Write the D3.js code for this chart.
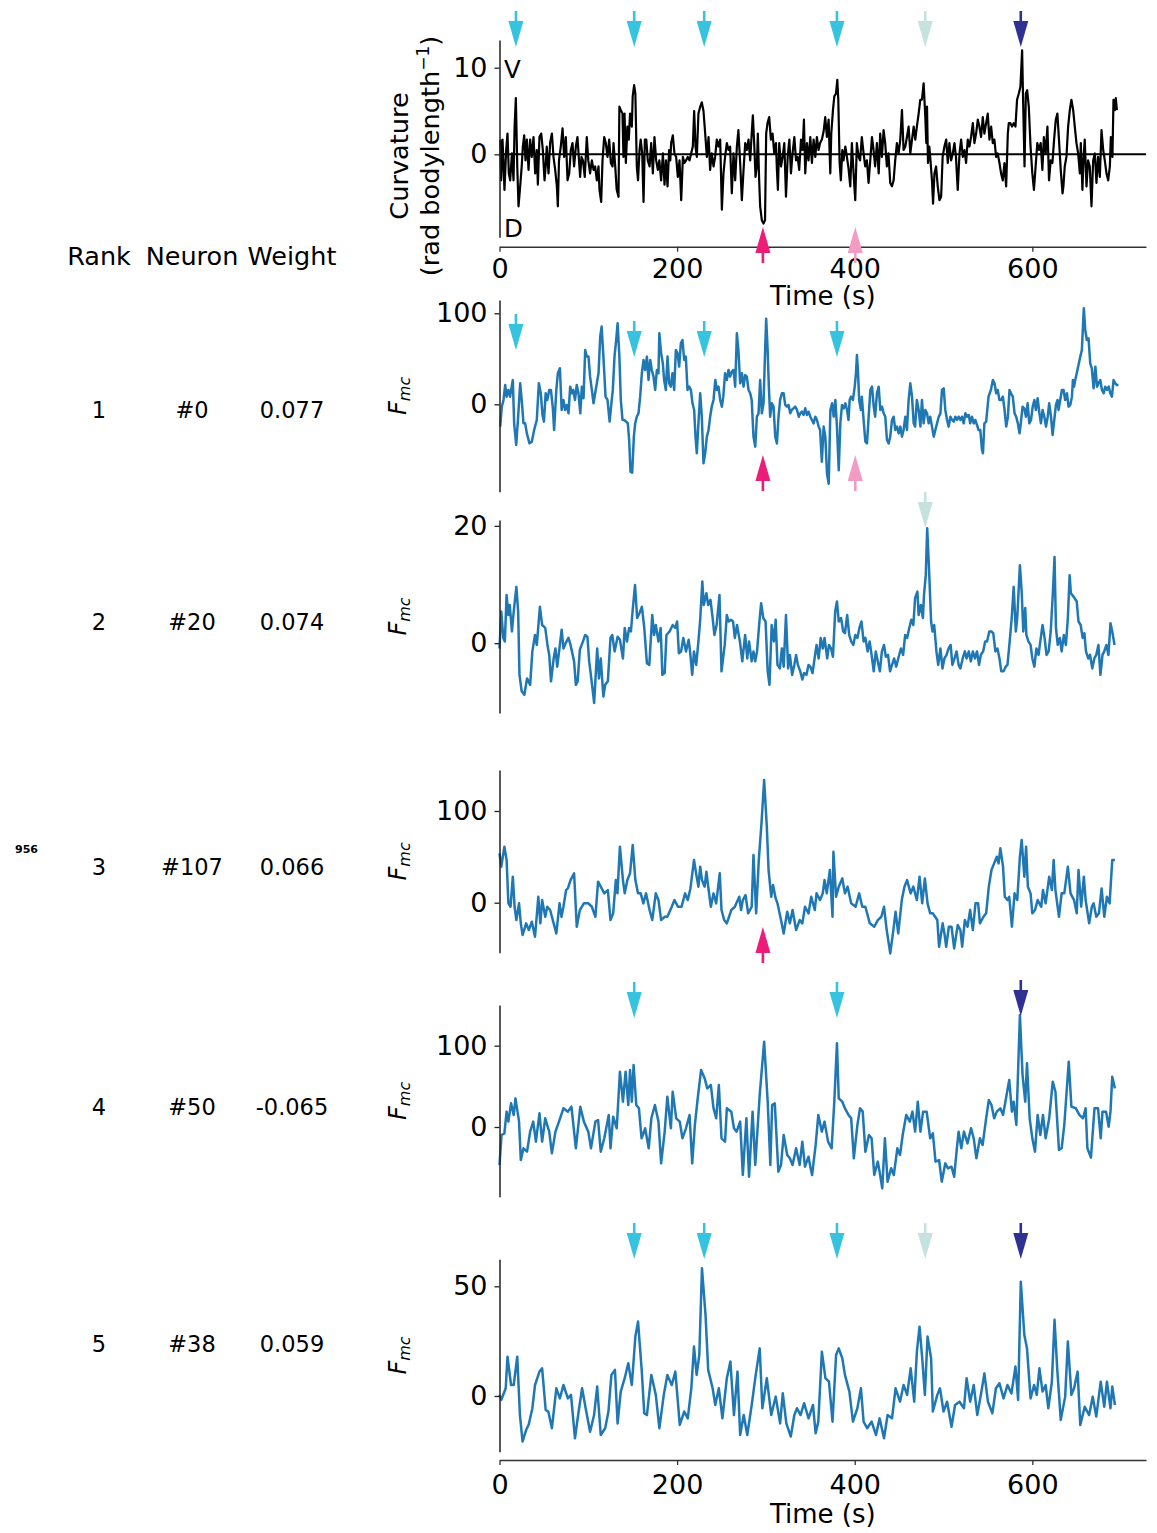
<!DOCTYPE html>
<html><head><meta charset="utf-8">
<script src="https://cdn.jsdelivr.net/npm/d3@7"></script>
<style>body{margin:0;background:#fff}svg{font-family:"DejaVu Sans",sans-serif}</style>
</head><body>
<svg id="c" width="1157" height="1533"></svg>
<script>
// ---------------- data ----------------
const timeTicks = [0, 200, 400, 600];
const ranks = ["1", "2", "3", "4", "5"];
const neurons = ["#0", "#20", "#107", "#50", "#38"];
const weights = ["0.077", "0.074", "0.066", "-0.065", "0.059"];

// events (s) and their arrow colours / directions
const eventTimes  = [18.5, 151.7, 230.5, 380, 479.4, 587, 296.6, 400.6];
const eventColors = ["#35c3df","#35c3df","#35c3df","#35c3df","#c6e2df","#2e3192","#ec1c79","#f49bc3"];
const eventDirs   = ["down","down","down","down","down","down","up","up"];

const curvature = [[0.8,1.7],[1.9,-3],[3.4,1.7],[4.5,-1],[5.6,-4.1],[7.5,0.5],[9,2.4],[10.5,-2.2],[12,-3],[14,0.1],[15.8,-3],[17,3.2],[18.4,6.5],[20,-1.4],[21.4,-6],[23.3,-3.7],[25,-1.4],[26.3,0.9],[27.8,2.2],[29.3,-0.7],[30.8,1.7],[32.7,-1.8],[34.5,1.7],[36.4,-0.3],[38.3,2],[40.2,-2.2],[42,0.5],[43.2,-3.5],[45,2],[47,2.4],[48.8,0.5],[50.7,-3],[52,-1.4],[53.2,0.9],[55.2,-2.2],[57,1.3],[59,2.4],[60.8,-0.3],[62.7,-1.8],[64.6,-3.7],[65.7,-6],[67,-0.7],[69,0.9],[71,3],[72.8,-0.3],[74.7,2],[76.6,-3],[78.5,-2.2],[80.3,0.5],[82.2,1.3],[84,-1.4],[86,0.9],[87.8,2],[89.7,-1],[90.8,-2.6],[92.3,-0.3],[94,-0.7],[96,-2.6],[98.3,2],[100,-0.7],[102,-2.2],[104,-0.7],[105.9,-1.8],[107.7,-1.4],[109.6,-3],[111.5,-1.4],[112.6,-4.1],[114.5,-5.5],[116,-0.7],[117.9,2],[119.7,1.3],[121.6,-0.3],[123.5,1.7],[125.4,-1],[127.3,-1.4],[128.4,1.3],[130.3,-1.4],[132,-4.1],[134,-4.9],[135,5.5],[136.6,5.1],[138.5,4.7],[139.6,-0.3],[140.8,4.7],[142.3,-1],[144,3.2],[145.6,1.7],[147,4.7],[149,3.2],[150,6.7],[151.6,8],[153,7],[154.6,-1.4],[156,-3],[157.7,0.5],[159,1.7],[160.7,0.1],[162.2,-5.5],[163.7,1.7],[165.3,1.7],[167,-0.7],[169,-1.4],[170.8,1.3],[172.7,-2.2],[174.5,2],[176.4,-0.7],[178.3,-1.8],[180,-0.7],[182,-3],[184,0.1],[185.8,-3.5],[187.5,-0.7],[189.2,-3.7],[191,0.5],[192.3,-0.7],[193.3,1.3],[195.2,2.2],[197,0.1],[198.9,-0.3],[200.8,-2.6],[202.7,-0.7],[204.6,-5.3],[206.5,-0.3],[208.3,-1],[210,-0.7],[212,-0.3],[214,-0.7],[215.8,0.1],[217.7,0.9],[219.2,5],[220.7,0.9],[222.2,-0.3],[224,4.7],[226,5.5],[227.8,6],[229.7,5],[231.6,2.4],[233.5,-0.3],[235.4,2],[237.2,-1.8],[239,0.1],[241,-1.4],[242.8,-0.3],[244.7,1.7],[246.6,0.9],[248.5,1.7],[250.4,-6.4],[252.2,-2.2],[254,-0.3],[256,1.3],[257.9,0.5],[259.7,0.9],[261.6,-4.5],[263.5,0.1],[265.4,-3],[267.3,0.9],[269,2.8],[271,-1],[272.9,-5.3],[274.8,-1.8],[276.7,1.3],[278.5,0.5],[280.4,1.7],[282.3,-0.7],[284,2.4],[285.3,4.5],[286.8,1.3],[288.3,-2.6],[289.8,-1.4],[290.9,2.4],[292.4,-3],[293.5,-6],[295.4,-7.6],[297.3,-8],[299,-7.6],[300.3,2.4],[301.8,3.6],[303.7,4.3],[305.6,1.7],[307.5,2.4],[309.4,0.1],[311.3,1.3],[312.4,-1.8],[313.5,-4.1],[315,1.3],[317,-1.4],[318.8,-0.3],[320.7,1.3],[322.6,-4.9],[324.5,-0.3],[326.4,1.7],[328.2,-2.2],[330,0.1],[332,2],[333.9,-0.7],[335.7,-0.3],[337.5,-1.8],[339.5,1.7],[341.3,0.5],[342.8,4],[344.3,-2.2],[346.2,1.3],[348,-0.7],[350,2],[351.8,-1],[353.7,1.7],[355.6,-0.3],[357.4,2],[359.3,0.5],[361,1.3],[363,1.7],[364.9,2.6],[366.8,4.3],[368.7,2],[370.6,4],[372.5,-2.2],[373.6,2.4],[375.5,5.1],[377,6.7],[378.9,7],[380.4,8.6],[381.5,6.3],[383,-1],[384.4,-3],[386,0.5],[387.4,-0.7],[389.4,0.9],[391.2,-0.3],[393,-1.6],[395,-3.7],[396.8,1.3],[398.7,-2.2],[400.6,-5.3],[402.4,1.3],[404.3,-0.3],[406,-0.7],[408,2],[410,0.1],[411.8,-1.4],[413.7,-0.7],[415.6,-3.3],[417.5,-0.7],[419.4,2],[421.2,0.5],[423,-1.4],[425,1.3],[427,-2.2],[428.7,2.4],[430.6,-0.3],[432.5,2.8],[434.3,1.3],[436.2,-1.4],[438,0.1],[440,-3.3],[441.9,-3.7],[443.8,-3],[445.6,-0.7],[447.5,1.3],[449.4,0.1],[451.3,1.7],[453.2,5.1],[455,0.5],[457,0.9],[458.8,2],[460.7,3.2],[462.6,0.1],[464.5,1.7],[466.4,3.2],[468.2,1.7],[470,3.2],[472,4.7],[473.8,6.3],[475.7,6.3],[477.6,8.2],[479.5,4.3],[480.6,1.3],[481.4,5.5],[482.5,-1],[484,0.9],[485,-0.3],[487,-3],[488.2,-5.7],[489.8,-2.2],[491.6,-1.4],[493.5,-3.7],[495.4,-5.3],[497.3,-4.9],[499,-0.3],[501,0.9],[503,1.7],[504.8,-1],[506.6,1.3],[508.5,-0.7],[510.4,0.1],[512.3,1.3],[514,-0.3],[516,-4.1],[518,0.1],[519.8,1.7],[521.7,-0.3],[523.6,0.5],[525.4,-1],[527.3,1.7],[529.2,0.9],[531,2],[533,3.6],[534.8,1.3],[536.7,2.4],[538.6,4],[540.4,3.2],[542.3,2],[544.2,4.3],[546,2.4],[548,3.6],[549.8,4.7],[551.7,1.7],[553.6,3.2],[555.5,1.3],[557.3,1.7],[559.2,-0.3],[561,0.1],[563,-1],[564.8,-2.2],[566.7,-3],[568.6,-1],[570.5,-3.7],[572.4,2.4],[573.5,3.6],[575.3,3.6],[577.2,3.2],[579,3.6],[581,3.2],[582.8,6.3],[584.7,7],[586.6,7.8],[588.5,12],[589.6,6.3],[591.2,-1.4],[592.7,7],[594.2,7.4],[596,5.5],[598,0.9],[600,-2.2],[601.8,-4.1],[603.7,-1.4],[605.6,1.3],[607.5,0.5],[609.4,1.3],[611.3,-1.8],[613,2],[615,0.1],[617,3.2],[618.8,-3],[620.7,-0.7],[622.6,-1],[624.5,1.7],[626.4,4],[628.2,4.7],[630,1.7],[632,-1.8],[634,-4.5],[635,-3.7],[636.5,-1.4],[638.4,-0.3],[640.3,3.2],[642.2,5.1],[644,6.3],[646,5.1],[647.8,3.2],[649.7,1.3],[651.6,0.1],[653.5,-2.2],[654.6,1.3],[656.4,-4.1],[657.6,-0.7],[659,1.7],[661,-3.7],[662.8,-0.7],[664.7,-1.4],[666.6,-6],[668.5,-0.7],[670.4,0.1],[672.2,-3.3],[674,-0.3],[676,-2.6],[677.9,2.8],[679.8,0.5],[681.6,-0.7],[683.5,-2.2],[685.4,-3],[687.3,-1.4],[688.4,2],[690.2,-0.3],[691.4,6.3],[692.9,5.1],[694,6.5],[695.2,5.1]];

const neuron0 = [[0.8,-24.5],[2.6,-2.6],[4.5,4.8],[6.4,21.2],[8,8.4],[10,15.8],[11.9,8.4],[15,26.7],[16.5,-20.9],[18.8,-44.7],[21,-13.6],[23.3,23.1],[25,4.8],[27,-20.9],[28.9,-20.9],[30.8,-31.9],[33.8,-42.9],[36.4,-41],[39,-28.2],[42,-17.2],[44.3,23.1],[46.5,12.1],[48.4,-11.7],[50,-19],[52,12.1],[53.8,4.8],[56,15.8],[57.9,15.8],[60.1,-4.4],[61.5,-28.2],[64,15.8],[65.7,34.1],[68,39.6],[70,-6.2],[72,4.8],[73.9,-6.2],[75.8,-0.7],[77.7,-9.9],[79.6,19.4],[81.5,12.1],[83,15.8],[85,4.8],[87,21.2],[88.9,12.1],[91,-9.9],[92.7,19.4],[94.6,6.6],[96.5,59.7],[98.3,52.4],[100.2,52.4],[102,30.4],[104,15.8],[105.9,1.1],[107.7,12.1],[109.6,23.1],[111.5,34.1],[113.4,74.4],[115,85.4],[117,52.4],[119.4,8.4],[121.6,4.8],[124,-19],[126,1.1],[127.6,15.8],[129.5,52.4],[131.4,70.7],[133,89],[135,52.4],[136.6,4.8],[138.5,-17.2],[140.4,-17.2],[142.6,-19],[144.5,-20.9],[146,-39.2],[147.5,-74],[149.4,-75.1],[151.3,-35.5],[152.8,-20.9],[154.6,-13.6],[156.5,-9.9],[158.4,8.4],[160.3,34.1],[162.2,48.7],[164,37.7],[166,52.4],[167.8,26.7],[169.7,48.7],[171.5,37.7],[173.4,30.4],[175.3,15.8],[177.2,37.7],[179,34.1],[180,78],[182,56],[183.9,45.1],[185.4,26.7],[187.3,15.8],[189.2,52.4],[191,23.1],[192.9,19.4],[194.8,34.1],[196.7,15.8],[198.6,59.7],[200.5,56],[202.3,41.4],[204.2,67],[206,70.7],[208,48.7],[209.8,52.4],[211.7,15.8],[213.6,19.4],[215.5,15.8],[217.3,1.1],[219.2,-6.2],[220.7,-35.5],[222.2,-53.8],[224,-20.9],[226,12.1],[227.8,-13.6],[229.7,-64.8],[231.6,-53.8],[233.5,-35.5],[235.4,-28.2],[237.2,-13.6],[239,-2.6],[241,4.8],[243,26.7],[244.7,15.8],[246.6,19.4],[248.5,4.8],[250.4,-2.6],[252,8.4],[254,34.1],[256,26.7],[257.9,37.7],[259.7,30.4],[261.6,35.9],[263.5,37.7],[265.4,19.4],[267.3,78],[269,59.7],[271,23.1],[273,34.1],[274.8,19.4],[276.7,32.2],[278.5,30.4],[280.4,15.8],[282.3,12.1],[284,4.8],[286,-35.5],[288,-46.5],[289.8,-13.6],[291.7,-9.9],[293.5,26.7],[295.4,-9.9],[297.3,1.1],[299,56],[300.3,94],[301.8,63],[303.3,19.4],[304.8,-13.6],[306.7,1.1],[308.6,-2.6],[310.5,-35.5],[312.4,-43],[314.2,-13.6],[316,4.8],[318,12.1],[320,12.1],[321.7,-0.7],[323.6,-2.6],[325.5,-0.7],[327.4,-9.9],[329,-6.2],[331,-4.4],[333,-2.6],[335,-6.2],[337,-13.6],[338.7,-9.9],[340.5,-8.1],[342.4,-11.7],[344.3,-4.4],[346.2,-11.7],[348,-8.1],[350,-13.6],[351.8,-17.2],[353.7,-20.9],[355.6,-13.6],[357.5,-17.2],[359.4,-24.5],[361,-28.2],[363,-63],[365,-24.5],[366.9,-35.5],[368.8,-76.2],[370.7,-87.2],[372.6,-6.2],[374.5,1.1],[376.3,-13.6],[378.2,4.8],[380,-24.5],[382,-72.5],[383.8,-20.9],[385.7,-0.7],[387.6,-4.4],[389.5,1.1],[391.4,-6.2],[393,-17.2],[394.3,4.8],[395.8,8.4],[398,4.8],[400,19.4],[401.4,34.1],[402.5,54.2],[403.6,37.7],[405,4.8],[407,-6.2],[408,8.4],[410,-17.2],[412,-41],[413.8,-42.9],[415.7,-13.6],[417.6,15.8],[419.5,19.4],[421.4,-2.6],[423,-13.6],[425,12.1],[427,19.4],[428.8,-6.2],[430.7,-2.6],[432.6,-9.9],[434.4,-13.6],[436.3,-39.2],[438.2,-42.9],[440,-35.5],[442,-17.2],[443.8,-13.6],[445.7,-28.2],[447.6,-24.5],[449.5,-31.9],[451.4,-24.5],[453.2,-35.5],[455,-28.2],[457,-13.6],[458.8,-28.2],[460.7,4.8],[462.6,23.1],[464.5,8.4],[466.4,-20.9],[468,-24.5],[470,4.8],[472,-6.2],[474,-24.5],[475.7,4.8],[477.6,-20.9],[479.5,-6.2],[481.4,-9.9],[483.3,-20.9],[485,-13.6],[487,-24.5],[489,-35.5],[490.8,-28.2],[492.7,-20.9],[494.6,-13.6],[496.5,-9.9],[498.3,15.8],[500.2,17.6],[502,-6.2],[504,-17.2],[505.8,-24.5],[507.7,-13.6],[509.6,-17.2],[511.5,-19],[513.3,-13.6],[515.2,-17.2],[517,-13.6],[519,-17.2],[520.8,-13.6],[522.7,-20.9],[524.6,-9.9],[526.5,-13.6],[528.4,-11.7],[530,-20.9],[532,-13.6],[534,-20.9],[535.8,-17.2],[537.6,-22.7],[539.5,-28.2],[541.4,-28.2],[543.3,-50.2],[544.4,-53.8],[546,-20.9],[548,-19],[550.7,8.4],[553.3,15.8],[555.6,26.7],[557.4,23.1],[559.3,12.1],[561,15.8],[563,4.8],[565,4.8],[566.8,8.4],[568.7,-6.2],[570.6,-24.5],[572.5,-13.6],[574.3,15.8],[576,12.1],[578,8.4],[580,-9.9],[581.8,-13.6],[583.7,-20.9],[585.6,-31.9],[587,-20.9],[589,-2.6],[590.9,-4.4],[592.8,-13.6],[594.7,1.1],[596.6,-20.9],[598.5,-17.2],[600.4,-2.6],[602.3,4.8],[604,-6.2],[606,6.6],[608,-9.9],[609.7,-20.9],[611.6,-6.2],[613.5,-13.6],[615.4,-24.5],[617.3,-13.6],[619,1.1],[621,-13.6],[622.8,-33.7],[624.7,-17.2],[626.6,-0.7],[628.4,4.8],[629.5,-6.2],[631.4,4.8],[633.3,15.8],[635.2,15.8],[637,4.8],[639,12.1],[640.8,-2.6],[642.7,-0.7],[644.6,8.4],[645.7,26.7],[647,19.4],[648.3,26.7],[650,34.1],[652,43.2],[654,52.4],[655.8,59.7],[657,85.4],[658,105.5],[659.6,81.7],[661.4,70.7],[663.3,72.5],[665.2,45.1],[667,39.6],[669,17.6],[671,41.4],[672.8,19.4],[674.6,23.1],[676.5,26.7],[678.4,15.8],[680.3,12.1],[682,19.4],[684,15.8],[686,19.4],[687.8,12.1],[689.6,8.4],[691.5,26.7],[693.4,23.1],[695.3,21.2],[697,21.2]];

const neuron20 = [[0,-0.9],[2,5.4],[4.3,0.9],[6,0.3],[8,8.2],[10,4.8],[11.5,6.5],[14,2],[16,5.4],[19,9.6],[21,5.4],[22.5,-5.4],[25,-8.2],[28,-8.8],[31,-6],[34.5,-7.1],[37,-1.4],[40,1.4],[42,-0.3],[45.5,6.2],[48,3.1],[51.5,2.6],[54,-0.3],[56,-2],[58,-6.5],[61,-2.6],[63,-0.9],[65,-4],[67.5,-0.9],[70,2.3],[72,-0.9],[74.5,0],[77.7,0.9],[80,-0.3],[84,-3.1],[86,-7.1],[88,-6.5],[90.5,-1.1],[94,0.3],[96.5,1.4],[99,1.1],[101,-3.1],[104,-6.8],[106.6,-10.2],[110,-0.9],[112,-6],[114,-2.6],[117,-9.1],[119,-7.1],[122,-6.5],[125,0.9],[127,1.4],[129.6,-1.4],[133,1.1],[135.6,0.6],[139,-2.6],[141,2.6],[143.5,0.3],[146,2.6],[148,2],[150,5.7],[152.6,9.9],[155,4.3],[157.6,5.1],[160.4,6.2],[163,2.6],[166,-3.4],[168.7,-3.7],[172,4.8],[174,1.4],[176,3.1],[179,0.3],[181.5,2.6],[183.4,-5.4],[186,-5.1],[188,1.4],[191.6,2],[195,3.1],[198,2.6],[200,3.7],[202,-1.7],[204.5,-1.4],[207,0.9],[210,-1.4],[213,0.6],[214.6,-1.4],[217,-5.4],[219,-1.4],[221.5,-3.7],[224,0.3],[226,4],[228.4,10.5],[230,6.5],[233,8.5],[235,6.5],[237.6,7.4],[240,4.3],[242,1.4],[244.5,3.1],[247.7,8.2],[250,-4.8],[253.6,-0.3],[256,4.8],[258,3.7],[260.6,4],[263,3.7],[265,0.9],[267.5,3.1],[270.7,0.3],[273.4,-3.1],[276.6,1.4],[279,-2.6],[281,0.3],[284,-3.1],[286,-1.4],[288,-3.1],[290,-1.4],[292.7,3.7],[294.6,6.8],[297,4.3],[299.6,3.7],[302,-4.8],[304,-7.1],[306.5,3.1],[309,0.3],[311,4],[313,-3.7],[315.7,-4.3],[318,-0.9],[320,-4],[322.6,4.8],[325,-4.3],[327,-2],[329.5,-5.4],[332,-3.7],[334,-2],[336,-3.7],[338.7,-4.8],[341,-6.2],[343,-5.1],[345.6,-5.4],[348,-3.7],[350,-4],[352.5,-5.1],[354.8,-2.6],[357,-0.3],[359.4,-2.6],[361.7,0.9],[364,-0.9],[366,0.9],[369,-2.6],[371,-0.3],[373.3,-0.9],[375.5,-2.3],[378,5.4],[380,7.1],[382,3.7],[384.6,4.3],[387,2],[389,1.7],[391.5,4.8],[393.8,1.4],[396,0.3],[398.4,-0.3],[400.7,1.4],[403,0.9],[405.3,2.6],[407.6,3.7],[410,0.3],[412,0.9],[414.5,-1.4],[416.8,0.3],[419,-2],[421.4,-4.8],[423.7,-1.4],[426,-3.1],[428.3,-4.8],[430.6,-1.4],[433,-0.3],[435,-2.3],[437.5,-2],[439.8,-4.8],[442,-3.7],[444.4,-2.6],[446.7,-4],[449,-2.6],[452,-0.9],[454.5,-2],[456.8,1.4],[459,0.9],[461.4,2.6],[463.7,4],[466,3.1],[468,7.7],[470.6,8.8],[472,4.8],[474.5,6.5],[476.8,4.3],[478,8.2],[480,11.6],[481.6,19.6],[483.5,13.3],[486,3.7],[487.6,2],[489.5,3.1],[492,-1.4],[494,-3.7],[496.5,-0.9],[498.8,-4.3],[501,-2.6],[503.4,-2],[505.7,-0.9],[508,-0.3],[510,-3.7],[512.4,-2.6],[514.7,-1.4],[517,-3.7],[519,-4.3],[521.6,-2.6],[524,-1.4],[526,-2.6],[528.5,-1.4],[530.8,-3.1],[533,-1.4],[535.4,-2.6],[537.7,-1.4],[540,-3.7],[542,-2],[544.6,-1.4],[546.9,0.3],[549,0.3],[551.5,2],[553.8,2],[556,1.7],[558.4,-1.4],[560.7,-0.9],[563,-2.6],[565,-4.8],[567.6,-4.8],[570,-4],[572,-3.7],[574.5,0.3],[576.8,4.3],[579,9.6],[581.4,2],[583,4.3],[586,13.3],[588,8.8],[589.8,2],[592,6],[593.3,1.4],[595.6,0.3],[598,-0.3],[600,-2.6],[602.3,-4],[604.6,-0.9],[607,-2],[609,0.3],[611.5,3.1],[613.8,0.9],[616,-2],[618.4,-1.4],[620.7,2],[623,8.2],[625,14.7],[626.6,2.6],[628.6,-0.3],[631,0.9],[633,-1.4],[635.5,1.4],[637.8,-0.3],[640,4.3],[642,11.6],[643.4,8.5],[646.6,7.9],[650,7.1],[652,3.7],[654.4,3.1],[656.7,0.9],[658.6,1.7],[660.4,-1.4],[663,-2.6],[665,-2],[667.5,-4.3],[669.8,-2.6],[672,-2],[674.4,-0.3],[676.7,-5.4],[679,-2],[681,-1.4],[683.4,-0.3],[685.7,-2],[688,3.4],[690,2],[692.6,-0.3]];

const neuron107 = [[0,53.8],[2,39.3],[5.5,61.1],[8,46.5],[10,-0.7],[12.4,-4.4],[15,28.4],[17,-4.4],[19,-18.9],[22,-0.7],[24,-22.5],[26,-35.3],[30,-22.5],[33,-29.8],[36.4,-20.7],[40,-37.1],[43.7,6.5],[46,-22.5],[48,2.9],[51.5,-15.3],[53.8,-4.4],[57,-8],[61,-22.5],[64,-33.5],[67.6,-0.7],[69.8,-15.3],[72,-4.4],[75,13.8],[77,15.6],[80,24.7],[84,32],[87,-26.2],[90.5,-8],[95,-0.7],[100,-0.7],[104,-4.4],[108,-15.3],[111,22.9],[114,17.5],[118,10.2],[122,13.8],[125,-18.9],[128,-11.6],[131,24.7],[132.8,10.2],[135.6,61.1],[139,24.7],[141,10.2],[144,24.7],[147,32],[150,62.9],[153,24.7],[156,10.2],[159,10.2],[162,-0.7],[165,10.2],[169,-8],[172,-18.9],[176,10.2],[179,2.9],[182,-18.9],[186,-15.3],[189,-15.3],[194,-4.4],[197,2.9],[201,-4.4],[205,-4.4],[209,10.2],[212,2.9],[215,15.6],[219,46.5],[222,28.4],[224,17.5],[226,39.3],[228,24.7],[231,17.5],[233,33.8],[235,17.5],[238,-4.4],[241,10.2],[244,-0.7],[248,32],[250,-8],[253,-18.9],[256,-22.5],[261,-8],[265,-4.4],[270,6.5],[272,-8],[274,2.9],[277,8.4],[280,-11.6],[284,-4.4],[286,52],[289,-11.6],[292,46.5],[295,86.5],[298,133.8],[301,82.9],[303,35.6],[306,6.5],[308,19.3],[311,4.7],[313,-0.7],[317,-18.9],[320,-33.5],[324,-9.8],[327,-22.5],[330,-8],[334,-29.8],[338,-18.9],[341,-22.5],[344,-4.4],[348,-11.6],[351,6.5],[355,-8],[357,10.2],[361,2.9],[364,10.2],[366,24.7],[368.5,10.2],[372,35.6],[375,-15.3],[376,55.6],[379,6.5],[382,17.5],[386,26.5],[389,10.2],[392,17.5],[396,-0.7],[401,-4.4],[405,10.2],[408.5,-4.4],[412,-4.4],[417,-22.5],[422,-26.2],[426,-18.9],[430,-15.3],[433,-4.4],[436,-29.8],[440,-55.3],[443.5,-29.8],[446,-9.8],[449,-33.5],[453,2.9],[456,17.5],[459,24.7],[463,10.2],[466,17.5],[470,2.9],[473,28.4],[476,-0.7],[479,26.5],[482,-0.7],[485,-11.6],[488,-11.6],[493,-18.9],[495,-48],[499,-22.5],[501,-33.5],[503,-48],[506,-26.2],[509,-26.2],[512,-49.8],[516,-24.4],[519,-29.8],[521,-48],[524,-18.9],[527,-26.2],[530,-8],[533,-29.8],[536,-0.7],[539,-0.7],[541,-22.5],[545,-15.3],[548,-11.6],[551,17.5],[554,35.6],[557,42.9],[560,50.2],[562,42.9],[564,59.3],[567,39.3],[569,6.5],[572,2.9],[574,6.5],[577,-26.2],[580,10.2],[583,2.9],[586,50.2],[588,68.4],[591,28.4],[593,61.1],[595,17.5],[598,10.2],[600,-11.6],[603,-8],[606,2.9],[610,-4.4],[612,13.8],[615,-0.7],[619,28.4],[622,13.8],[624,46.5],[626,13.8],[630,-15.3],[633,10.2],[636,10.2],[640,39.3],[643,10.2],[647,2.9],[650,-11.6],[652,35.6],[655,-4.4],[658,28.4],[660,2.9],[664,-22.5],[667,-4.4],[669,-0.7],[672,-15.3],[675,-11.6],[678,15.6],[681,-15.3],[684,6.5],[687,-0.7],[690,46.5],[693,46.5]];

const neuron50 = [[0,-46.7],[2.3,-9.8],[5.5,-7.8],[8,18.9],[10,6.6],[13,29.1],[16,14.8],[18,35.2],[22,6.6],[24,-40.6],[27,-26.2],[31,-30.3],[34.5,-5.7],[38,6.6],[41,-18],[45,16.8],[48,-18],[51.5,10.7],[56,-5.7],[59,-32.4],[63,-5.7],[67,6.6],[72,23],[77,18.9],[81,25],[86,-26.2],[91,25],[95,6.6],[100,-5.7],[103,-26.2],[108,6.6],[111,8.6],[114,-30.3],[118,-13.9],[123,14.8],[125,-26.2],[128,12.7],[132,-1.6],[135.6,68],[139,31.1],[142,68],[145,27],[147,70.1],[149,31.1],[151,76.2],[154,27],[157,23],[160,-13.9],[164,-1.6],[168,-26.2],[171,10.7],[175,27],[179,6.6],[182,-44.7],[186,-5.7],[189,37.3],[193,-1.6],[195,43.4],[199,10.7],[203,6.6],[206,-13.9],[210,-1.6],[214,14.8],[217,-44.7],[220,2.5],[223,33.2],[227,70.1],[231,59.8],[234,47.5],[238,51.6],[241,23],[244,10.7],[247,51.6],[250,-13.9],[254,-18],[256,23],[261,18.9],[264,-1.6],[267,-5.7],[271,6.6],[274,-59],[278,10.7],[281,-61.1],[285,18.9],[288,-46.7],[293,39.3],[298,104.9],[302,31.1],[305,-46.7],[307,27],[310,29.1],[314,-54.9],[317,-46.7],[320,-9.8],[324,-34.4],[327,-38.5],[330,-46.7],[334,-26.2],[338,-46.7],[341,-18],[344,-48.8],[348,-36.5],[350,-48.8],[352,-59],[356,-22.1],[359,14.8],[363,-5.7],[366,6.6],[370,-18],[374,-26.2],[377,31.1],[380,102.9],[382,35.2],[386,31.1],[389,23],[393,14.8],[396,10.7],[399,-38.5],[403,2.5],[406,23],[409,18.9],[412,-30.3],[416,-9.8],[419,-13.9],[422,-59],[426,-42.6],[428,-54.9],[431,-75.4],[434,-13.9],[437,-67.2],[441,-50.8],[444,-59],[448,-26.2],[451,-34.4],[454,-9.8],[458,14.8],[462,6.6],[465,18.9],[468,-5.7],[471,31.1],[474,-5.7],[477,18.9],[481,18.9],[485,-13.9],[488,-7.8],[491,-42.6],[495,-40.6],[498,-67.2],[502,-44.7],[505,-50.8],[509,-48.8],[512,-61.1],[515,-26.2],[517,-5.7],[520,-26.2],[523,-5.7],[527,-20.1],[531,-1.6],[534,-13.9],[537,-38.5],[541,-13.9],[544,-22.1],[548,10.7],[551,33.2],[554,27],[557,10.7],[560,18.9],[564,23],[567,14.8],[571,39.3],[574,57.8],[577,18.9],[579,31.1],[582,2.5],[586,137.7],[589,63.9],[592,31.1],[594,78.3],[597,10.7],[600,-13.9],[603,-30.3],[606,14.8],[609,-9.8],[612,14.8],[615,-13.9],[619,10.7],[623,55.7],[626,43.4],[630,-28.3],[633,-26.2],[636,2.5],[641,80.3],[644,25],[649,23],[653,14.8],[657,10.7],[660,23],[662,-26.2],[666,-37.7],[670,23],[674,23],[677,-13.9],[679,18.9],[683,18.9],[686,0.4],[688,18.9],[690,61.9],[693,47.5]];

const neuron38 = [[0,0.5],[2,-1.8],[7,3.5],[9,17.9],[13,5],[16,5],[20,17.9],[23,-8.7],[26,-20.8],[30,-15.5],[33,-12.9],[37,-5.6],[40,5],[45,11.1],[48,12.6],[52,-6.4],[55,-7.1],[59,-14.7],[64,3.5],[68,-1.1],[72,5],[77,-1.1],[80.5,0.5],[85,-19.3],[88,-10.2],[93,3.5],[97,-5.6],[102,-16.3],[106.5,-8.7],[110,4.3],[114,-17.8],[119,-14.7],[122.7,-7.1],[126,9.6],[130,11.9],[133,-12.5],[136.5,2],[141,8.1],[145,14.9],[149,5],[153,27.1],[156,33.9],[160,12.6],[163,-7.9],[166,-8.7],[171,9.6],[176,0.5],[180,-14.7],[185,0.5],[189,9.6],[194,5],[198,11.1],[203,-13.2],[208,-7.1],[212,-10.2],[216,3.5],[219,22.5],[222,9.6],[225,18.7],[228,58.2],[232,36.9],[235,11.9],[240,3.5],[243,-4.1],[247,3.5],[251,-10.2],[256,8.1],[260,15.7],[264,-8.7],[268,11.1],[271,-17.8],[275,-8.7],[279,-17.8],[284,-4.1],[288,8.1],[293,21.7],[296,-5.6],[301,8.1],[306,-8.7],[311,-0.3],[316,-12.5],[319,1.2],[323,-12.5],[328,-18.5],[332,-8.7],[335,-5.6],[339,-8.7],[343,-3.3],[348,-10.2],[353,-4.1],[356,-17],[359,-11.7],[363,20.2],[367,8.1],[371,6.5],[375,-11.7],[379,18.7],[382,21.7],[386,17.2],[389,9.6],[394,2],[398,-11.7],[403,-5.6],[407,3.5],[410,-11.7],[414,-14.7],[419,-11.7],[424,-17.8],[428,-10.2],[433,-19.3],[437,-8.7],[442,-10.2],[446,3.5],[451,-2.6],[455,5],[459,0.5],[463,12.6],[467,-2.6],[470,20.2],[473,31.6],[476,17.2],[479,0.5],[482,27.1],[486,17.2],[488,-7.1],[493,0.5],[496,3.5],[500,-7.1],[504,-2.6],[509,-14],[513,-4.1],[518,-2.6],[523,-5.6],[526,8.1],[530,-2.6],[534,5],[538,-8.7],[543,2.7],[546,10.3],[550,-2.6],[555,-7.9],[559,3.5],[563,5.8],[567.6,-1.1],[572,5],[576.5,1.2],[581,13.4],[584,-1.8],[587,52.1],[591,27.8],[594,21.7],[598,-1.1],[602,5],[605,0.5],[608,12.6],[611.5,2],[615,5],[618,-5.6],[622,6.5],[625,34.7],[628,12.6],[632,-10.9],[637,-0.3],[640,24.8],[644,0.5],[647,3.5],[651,11.1],[654,-13.2],[659,-4.9],[664,-8.7],[668,-0.3],[672,-9.4],[677,6.5],[681,-4.9],[684,6.5],[688,-5.6],[690,4.3],[693,-4.1]];

// ---------------- layout ----------------
const svg = d3.select("#c");
const x = d3.scaleLinear().domain([0, 728]).range([499.5, 1146]);

const panels = [
  {data: curvature, top: 40, bottom: 237.3, lo: -9.58, hi: 13.2, ticks: [0, 10], color: "#000", width: 2.2,
   xAxis: 246.7, xPad: 7, xLab: 58,
   down: [0,1,2,3,4,5], downTip: [47,47,47,47,47,47], up: [6,7], upTip: 227},
  {data: neuron0, top: 300, bottom: 491.7, lo: -96, hi: 114.6, ticks: [0, 100], row: 410,
   down: [0,1,2,3], downTip: [350,357,357,357], up: [6,7], upTip: 455},
  {data: neuron20, top: 520, bottom: 713, lo: -11.9, hi: 21, ticks: [0, 20], row: 622,
   down: [4], downTip: [528], up: [], upTip: 0},
  {data: neuron107, top: 770, bottom: 952.7, lo: -54.5, hi: 144.7, ticks: [0, 100], row: 867,
   down: [], downTip: [], up: [6], upTip: 927},
  {data: neuron50, top: 1005, bottom: 1196.7, lo: -85.7, hi: 150, ticks: [0, 100], row: 1107,
   down: [1,3,5], downTip: [1018,1018,1016], up: [], upTip: 0},
  {data: neuron38, top: 1259.3, bottom: 1451.7, lo: -25.4, hi: 62.3, ticks: [0, 50], row: 1344,
   xAxis: 1460, xPad: 10, xLab: 63,
   down: [1,2,3,4,5], downTip: [1259,1259,1259,1259,1259], up: [], upTip: 0}
];

function arrowDown(g, t, tip, col) {
  const cx = x(t);
  g.append("line").attr("x1", cx).attr("x2", cx).attr("y1", tip - 36).attr("y2", tip - 24)
    .attr("stroke", col).attr("stroke-width", 2.6);
  g.append("path").attr("d", `M${cx-7.5},${tip-26}L${cx+7.5},${tip-26}L${cx},${tip}Z`).attr("fill", col);
}
function arrowUp(g, t, tip, col) {
  const cx = x(t);
  g.append("line").attr("x1", cx).attr("x2", cx).attr("y1", tip + 24).attr("y2", tip + 36)
    .attr("stroke", col).attr("stroke-width", 2.6);
  g.append("path").attr("d", `M${cx-7.5},${tip+26}L${cx+7.5},${tip+26}L${cx},${tip}Z`).attr("fill", col);
}

panels.forEach((p, i) => {
  const y = d3.scaleLinear().domain([p.lo, p.hi]).range([p.bottom, p.top]);
  const g = svg.append("g");

  if (i === 0) {
    g.append("line").attr("x1", x(0)).attr("x2", x(728)).attr("y1", y(0)).attr("y2", y(0))
      .attr("stroke", "#000").attr("stroke-width", 2);
  }

  const line = d3.line().x(d => x(d[0])).y(d => y(d[1]));
  g.append("path").datum(p.data).attr("d", line).attr("fill", "none")
    .attr("stroke", p.color || "#1f77b4").attr("stroke-width", p.width || 2.5)
    .attr("stroke-linejoin", "round");

  // y axis
  const ya = g.append("g").attr("transform", `translate(${x(0)},0)`)
    .call(d3.axisLeft(y).tickValues(p.ticks).tickSize(5).tickSizeOuter(0).tickPadding(7).tickFormat(d3.format("d")));
  ya.select(".domain").attr("stroke", "#222").attr("stroke-width", 1.5);
  ya.selectAll(".tick line").attr("stroke", "#222").attr("stroke-width", 1.3);
  ya.selectAll(".tick text").attr("font-size", 27).attr("fill", "#000").attr("font-family", "DejaVu Sans");

  // x axis
  if (p.xAxis) {
    const xa = g.append("g").attr("transform", `translate(0,${p.xAxis})`)
      .call(d3.axisBottom(x).tickValues(timeTicks).tickSize(5).tickSizeOuter(0).tickPadding(p.xPad));
    xa.select(".domain").attr("stroke", "#333").attr("stroke-width", 1.5);
    xa.selectAll(".tick line").attr("stroke", "#333").attr("stroke-width", 1.3);
    xa.selectAll(".tick text").attr("font-size", 27).attr("fill", "#000").attr("font-family", "DejaVu Sans");
    g.append("text").attr("x", (x(0) + x(728)) / 2).attr("y", p.xAxis + p.xLab).attr("text-anchor", "middle")
      .attr("font-size", 26).text("Time (s)");
  }

  // arrows
  p.down.forEach((e, k) => arrowDown(g, eventTimes[e], p.downTip[k], eventColors[e]));
  p.up.forEach(e => arrowUp(g, eventTimes[e], p.upTip, eventColors[e]));

  // y label
  if (i === 0) {
    g.append("text").attr("transform", "translate(408,156) rotate(-90)").attr("text-anchor", "middle")
      .attr("font-size", 25.6).text("Curvature");
    const t2 = g.append("text").attr("transform", "translate(439,156) rotate(-90)").attr("text-anchor", "middle")
      .attr("font-size", 25.6);
    t2.append("tspan").text("(rad bodylength");
    t2.append("tspan").attr("font-size", 17).attr("dy", -10).text("−1");
    t2.append("tspan").attr("dy", 10).text(")");
    g.append("text").attr("x", 504).attr("y", 77.7).attr("font-size", 24.5).text("V");
    g.append("text").attr("x", 504).attr("y", 237.3).attr("font-size", 24.5).text("D");
  } else {
    const cy = (p.top + p.bottom) / 2;
    const t = g.append("text").attr("transform", `translate(406,${cy}) rotate(-90)`).attr("text-anchor", "middle");
    t.append("tspan").attr("font-style", "italic").attr("font-size", 24).text("F");
    t.append("tspan").attr("font-style", "italic").attr("font-size", 16).attr("dy", 4).text("mc");
    // table row
    const k = i - 1;
    [[99, ranks[k]], [192, neurons[k]], [292, weights[k]]].forEach(([cx, s]) => {
      svg.append("text").attr("x", cx).attr("y", p.row + 8).attr("text-anchor", "middle")
        .attr("font-size", 22.5).text(s);
    });
  }
});

// table header
[[99, "Rank"], [192, "Neuron"], [292, "Weight"]].forEach(([cx, s]) => {
  svg.append("text").attr("x", cx).attr("y", 265).attr("text-anchor", "middle").attr("font-size", 25.5).text(s);
});
svg.append("text").attr("x", 15).attr("y", 853).attr("font-size", 11).attr("font-weight", "bold").text("956");
</script>
</body></html>
